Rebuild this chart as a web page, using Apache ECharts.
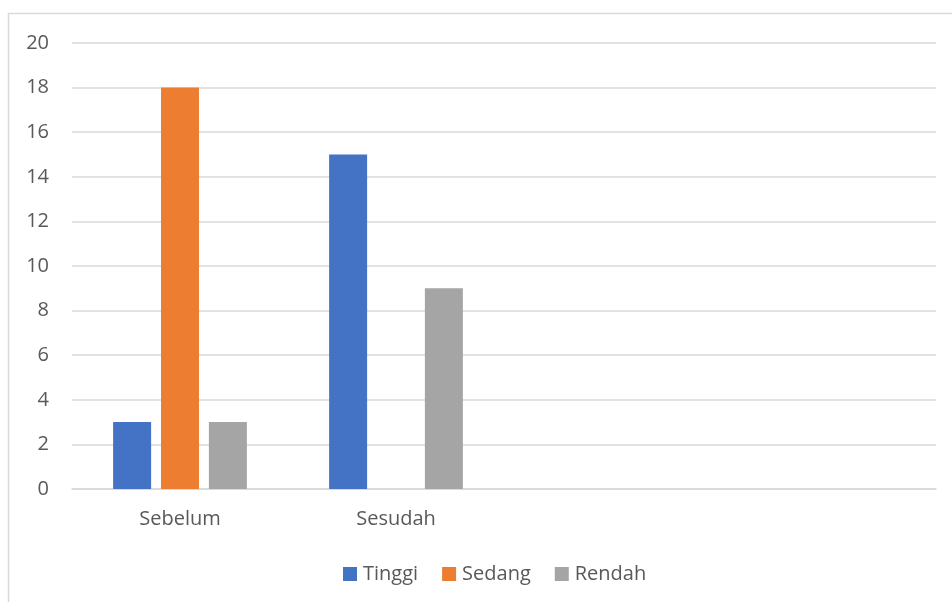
<!DOCTYPE html>
<html><head><meta charset="utf-8">
<script src="https://cdn.jsdelivr.net/npm/echarts@6/dist/echarts.min.js"></script>
<style>html,body{margin:0;padding:0;background:#fff}#c{width:952px;height:602px}</style>
</head><body><div id="c"></div>
<script>
const categories = ['Sebelum', 'Sesudah', '', ''];
const tinggi = [3, 15, null, null];
const sedang = [18, 0, null, null];
const rendah = [3, 9, null, null];
const seriesNames = ['Tinggi', 'Sedang', 'Rendah'];
const colors = ['#4472C4', '#ED7D31', '#A5A5A5'];

const chart = echarts.init(document.getElementById('c'));
const font = '"Open Sans", sans-serif';
const txt = '#595959';
chart.setOption({
  animation: false,
  textStyle: { fontFamily: font },
  graphic: [{ type: 'rect', shape: { x: 8.5, y: 13.5, width: 960, height: 600 }, style: { fill: 'none', stroke: '#d9d9d9', lineWidth: 1.5 }, silent: true }],
  grid: { left: 72, right: 16, top: 43, bottom: 113 },
  legend: {
    bottom: 13, left: 338, itemWidth: 14, itemHeight: 14, itemGap: 24,
    icon: 'rect',
    textStyle: { color: txt, fontSize: 20, fontFamily: font, padding: [0, 0, 0, 1] },
    data: seriesNames
  },
  xAxis: {
    type: 'category', data: categories,
    axisLine: { lineStyle: { color: '#d9d9d9', width: 1.5 } },
    axisTick: { show: false },
    axisLabel: { color: txt, fontSize: 20, margin: 20, fontFamily: font }
  },
  yAxis: {
    type: 'value', min: 0, max: 20, interval: 2,
    axisLine: { show: false }, axisTick: { show: false },
    splitLine: { lineStyle: { color: '#d9d9d9', width: 1.5 } },
    axisLabel: { color: txt, fontSize: 20, margin: 23, fontFamily: font }
  },
  series: [
    { name: seriesNames[0], type: 'bar', data: tinggi, itemStyle: { color: colors[0] }, barWidth: 38, barGap: '26%' },
    { name: seriesNames[1], type: 'bar', data: sedang, itemStyle: { color: colors[1] }, barWidth: 38, barGap: '26%' },
    { name: seriesNames[2], type: 'bar', data: rendah, itemStyle: { color: colors[2] }, barWidth: 38, barGap: '26%' }
  ]
});
</script></body></html>
